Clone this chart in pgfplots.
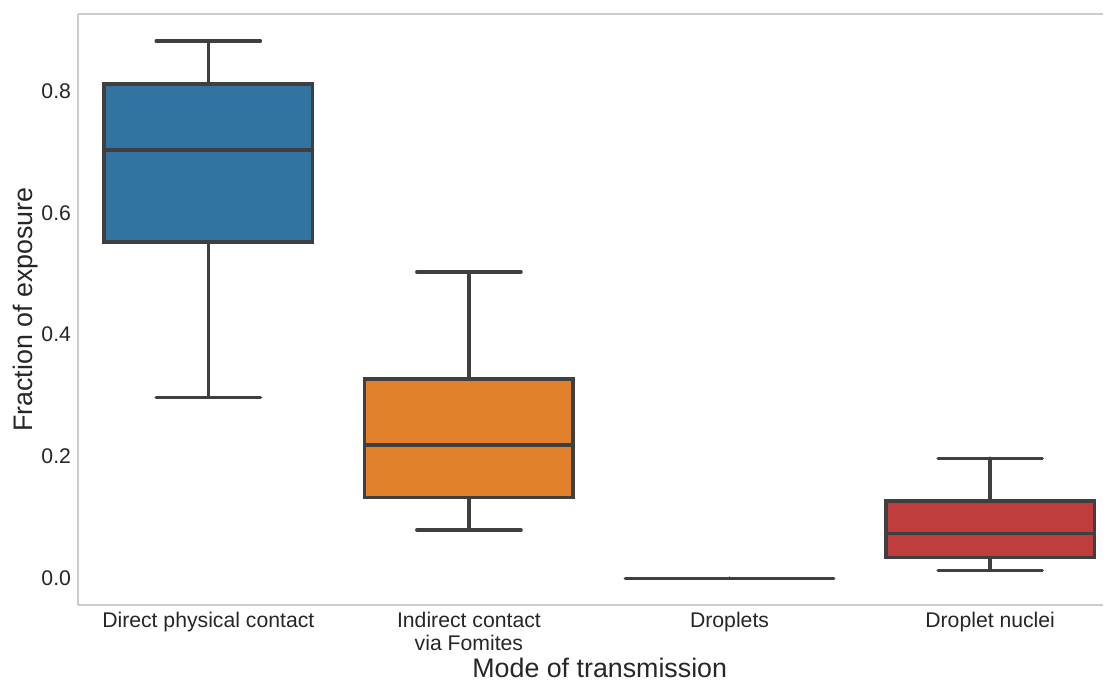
\documentclass[border=0pt]{standalone}
\usepackage{fontspec}
\setmainfont{Liberation Sans}
\usepackage{pgfplots}
\pgfplotsset{compat=1.18}
\usepgfplotslibrary{statistics}
\definecolor{c1}{HTML}{3274A1}
\definecolor{c2}{HTML}{E1812C}
\definecolor{c3}{HTML}{3A923A}
\definecolor{c4}{HTML}{C03D3E}
\definecolor{edge}{HTML}{3F3F3F}
\definecolor{spine}{HTML}{CCCCCC}
\definecolor{txt}{HTML}{262626}
\begin{document}
\begin{tikzpicture}
\begin{axis}[
  name=ax,
  scale only axis, width=512.5pt, height=295.5pt,
  xmin=-0.5, xmax=3.433, ymin=-0.044, ymax=0.9265,
  axis x line*=box, axis y line*=left,
  axis line style={spine, line width=0.7pt},
  major tick length=0pt,
  xtick={0,1,2,3},
  xticklabels={Direct physical contact, {Indirect contact\\via Fomites}, Droplets, Droplet nuclei},
  xticklabel style={align=center, font=\fontsize{10.6}{11.5}\selectfont, text=txt, anchor=north},
  ytick={0,0.2,0.4,0.6,0.8},
  yticklabel style={font=\fontsize{10.6}{12}\selectfont, text=txt, /pgf/number format/.cd, fixed, fixed zerofill, precision=1},
  /pgf/number format/assume math mode=true,
  xlabel={Mode of transmission},
  ylabel={Fraction of exposure},
  xlabel style={at={(axis description cs:0.509,-0.106)}, anchor=center, font=\fontsize{13.4}{15}\selectfont, text=txt},
  ylabel style={at={(axis description cs:-0.0507,0.5)}, anchor=center, font=\fontsize{13.4}{15}\selectfont, text=txt},
  boxplot/draw direction=y,
  every axis plot/.append style={draw=edge, line width=1.7pt, line cap=round, line join=miter, solid, mark=none},
]
\addplot[fill=c1, boxplot prepared={draw position=0, lower whisker=0.297, lower quartile=0.552, median=0.703, upper quartile=0.8115, upper whisker=0.882, box extend=0.8, whisker extend=0.4}] coordinates {};
\addplot[fill=c2, boxplot prepared={draw position=1, lower whisker=0.079, lower quartile=0.133, median=0.2185, upper quartile=0.327, upper whisker=0.503, box extend=0.8, whisker extend=0.4}] coordinates {};
\addplot[fill=c3, boxplot prepared={draw position=2, lower whisker=0, lower quartile=0, median=0, upper quartile=0, upper whisker=0, box extend=0.8, whisker extend=0.4}] coordinates {};
\addplot[fill=c4, boxplot prepared={draw position=3, lower whisker=0.013, lower quartile=0.0345, median=0.0739, upper quartile=0.1265, upper whisker=0.197, box extend=0.8, whisker extend=0.4}] coordinates {};
\end{axis}
\pgfresetboundingbox
\path ([xshift=-39pt, yshift=-37.5pt]ax.south west) rectangle ([xshift=1pt, yshift=7pt]ax.north east);
\end{tikzpicture}
\end{document}
